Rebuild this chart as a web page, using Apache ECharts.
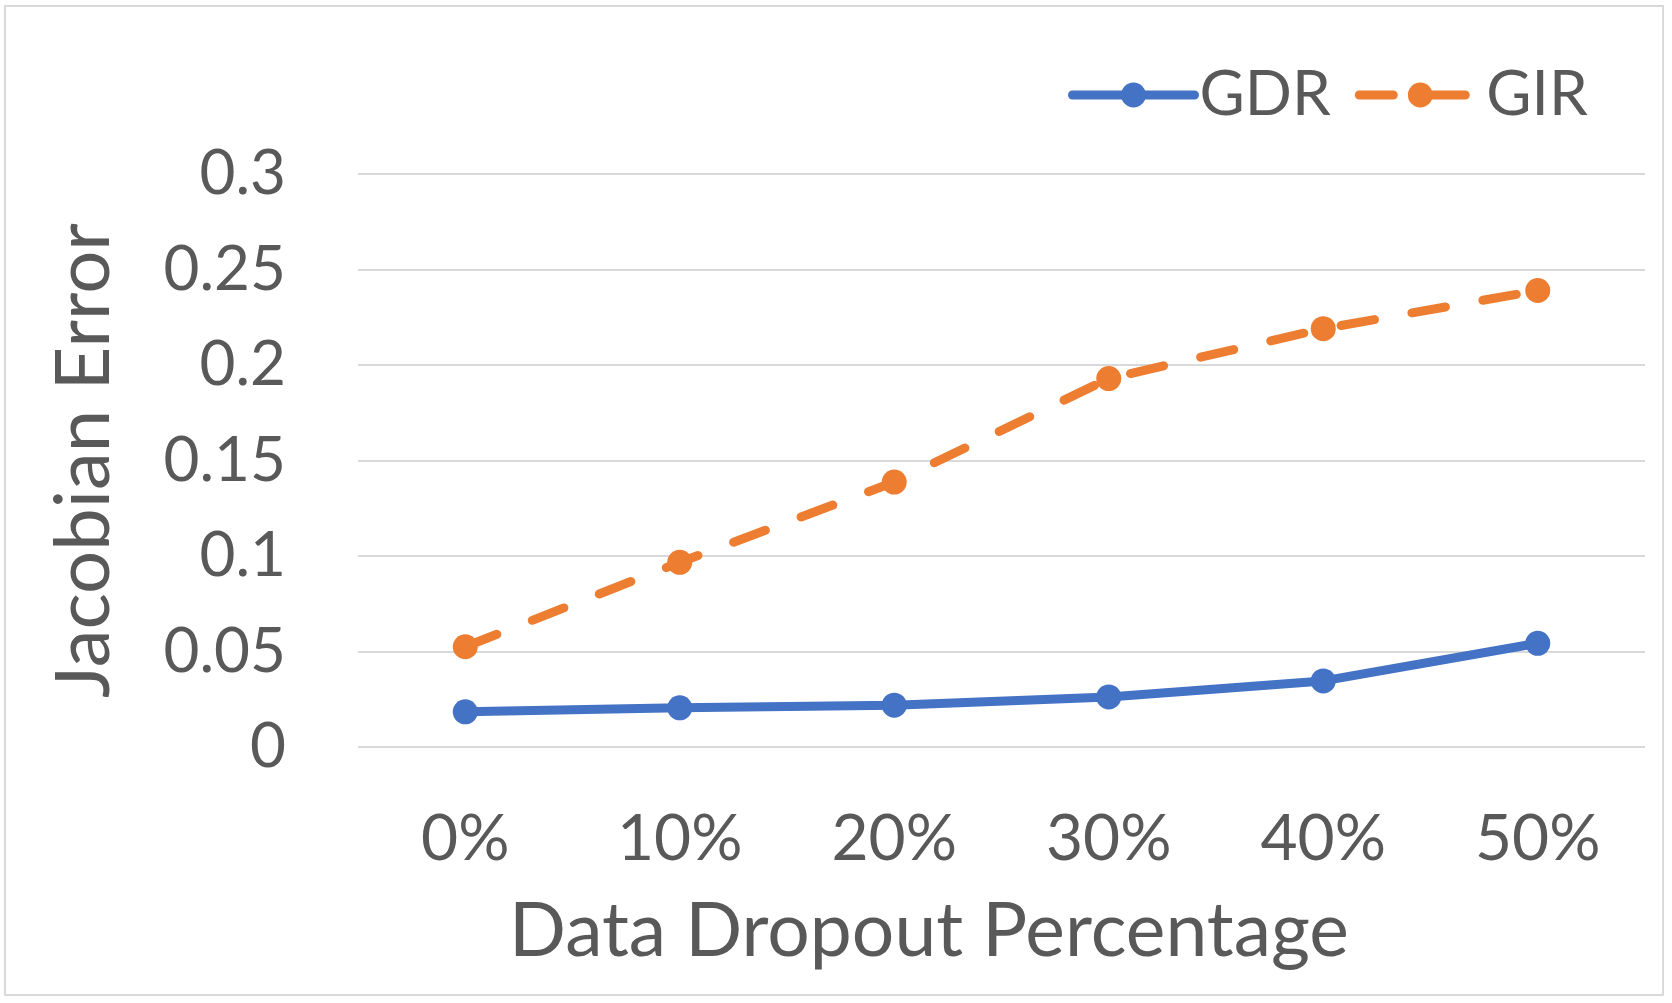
<!DOCTYPE html>
<html>
<head>
<meta charset="utf-8">
<script src="https://cdn.jsdelivr.net/npm/echarts@6/dist/echarts.min.js"></script>
<style>
html,body{margin:0;padding:0;background:#fff;}
#chart{width:1672px;height:1003px;}
</style>
</head>
<body>
<div id="chart"></div>
<script>
const categories = ['0%', '10%', '20%', '30%', '40%', '50%'];
const gdrValues = [0.0184, 0.0205, 0.0219, 0.0262, 0.0346, 0.0543];
const girValues = [0.0525, 0.0967, 0.1387, 0.1929, 0.2190, 0.2390];
const seriesNames = ['GDR', 'GIR'];
const yTickLabels = ['0', '0.05', '0.1', '0.15', '0.2', '0.25', '0.3'];
const xAxisTitle = 'Data Dropout Percentage';
const yAxisTitle = 'Jacobian Error';

const FONT = 'Lato';
const TXT = '#595959';
const chart = echarts.init(document.getElementById('chart'));
chart.setOption({
  animation: false,
  backgroundColor: '#fff',
  textStyle: { fontFamily: FONT },
  graphic: [{
    type: 'rect',
    shape: { x: 5, y: 6, width: 1658, height: 989 },
    style: { fill: 'none', stroke: '#D9D9D9', lineWidth: 2 },
    silent: true
  }],
  title: {
    text: xAxisTitle,
    left: 929, top: 894,
    textAlign: 'center',
    padding: 0,
    textStyle: { fontFamily: FONT, fontSize: 75, fontWeight: 'normal', color: TXT }
  },
  legend: {
    left: 1063, top: 59,
    itemWidth: 122, itemHeight: 31, itemGap: 24,
    lineStyle: { width: 9, cap: 'round' },
    textStyle: { fontFamily: FONT, fontSize: 62, color: TXT, padding: [0, 0, 0, 0] },
    data: seriesNames
  },
  grid: { left: 358, right: 27, top: 174, bottom: 256, containLabel: false },
  xAxis: {
    type: 'category',
    data: categories,
    boundaryGap: true,
    axisLine: { show: false },
    axisTick: { show: false },
    axisLabel: { fontFamily: FONT, fontSize: 64, color: TXT, margin: 60 }
  },
  yAxis: {
    type: 'value',
    min: 0, max: 0.3, interval: 0.05,
    name: yAxisTitle,
    nameLocation: 'middle',
    nameRotate: 90,
    nameGap: 236,
    nameTextStyle: { fontFamily: FONT, fontSize: 76, color: TXT },
    axisLine: { show: false },
    axisTick: { show: false },
    axisLabel: {
      fontFamily: FONT, fontSize: 62, color: TXT, margin: 72,
      formatter: (v) => yTickLabels[Math.round(v / 0.05)]
    },
    splitLine: { lineStyle: { color: '#D9D9D9', width: 2 } }
  },
  series: [{
    name: seriesNames[0],
    type: 'line',
    data: gdrValues,
    symbol: 'circle', symbolSize: 25,
    itemStyle: { color: '#4472C4' },
    lineStyle: { color: '#4472C4', width: 9, cap: 'round', join: 'round' }
  }, {
    name: seriesNames[1],
    type: 'line',
    data: girValues,
    symbol: 'circle', symbolSize: 25,
    itemStyle: { color: '#ED7D31' },
    lineStyle: { color: '#ED7D31', width: 9, type: [34, 38], cap: 'round', join: 'round' }
  }]
});
</script>
</body>
</html>
